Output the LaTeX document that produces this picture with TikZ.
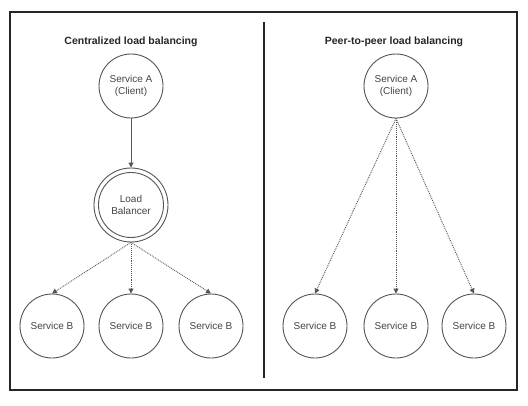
\documentclass[tikz,border=0pt]{standalone}
\usepackage{fontspec}
\setmainfont{Liberation Sans}
\usetikzlibrary{arrows.meta}
\definecolor{ln}{HTML}{555555}
\definecolor{tx}{HTML}{444444}
\begin{document}
\begin{tikzpicture}[x=1pt,y=-1pt,
  svc/.style={circle,draw=ln,line width=0.9pt,minimum size=64pt,inner sep=0pt,align=center,text=tx,font=\fontsize{10}{12}\selectfont},
  ttl/.style={font=\bfseries\fontsize{10.5}{12}\selectfont,text=black!85},
  solidarr/.style={draw=ln,line width=0.9pt,-{Triangle[length=5pt,width=5pt]}},
  dotarr/.style={draw=ln,line width=0.9pt,densely dotted,-{Triangle[length=5pt,width=5pt]}}]
\useasboundingbox (0,0) rectangle (528,405);
\fill[white] (0,0) rectangle (528,405);
\draw[line width=1.8pt,black!85] (10,12) rectangle (517,390);
\draw[line width=2.2pt,black!85] (264,22) -- (264,378);
% left
\node[ttl] (t1) at (131,42) {Centralized load balancing};
\node[svc] (a1) at (131,86) {Service A\\(Client)};
\node[circle,draw=ln,line width=0.9pt,minimum size=74pt,inner sep=0pt] (lbo) at (131,205) {};
\node[svc,minimum size=65pt] (lb) at (131,205) {Load\\Balancer};
\node[svc] (b1) at (52,326) {Service B};
\node[svc] (b2) at (131,326) {Service B};
\node[svc] (b3) at (211,326) {Service B};
\draw[solidarr] (a1.south) -- (lbo.north);
\draw[dotarr] (lbo.south) -- (b1.north);
\draw[dotarr] (lbo.south) -- (b2.north);
\draw[dotarr] (lbo.south) -- (b3.north);
% right
\node[ttl] (t2) at (394,42) {Peer-to-peer load balancing};
\node[svc] (a2) at (396,86) {Service A\\(Client)};
\node[svc] (c1) at (315,326) {Service B};
\node[svc] (c2) at (396,326) {Service B};
\node[svc] (c3) at (474,326) {Service B};
\draw[dotarr] (a2.south) -- (c1.north);
\draw[dotarr] (a2.south) -- (c2.north);
\draw[dotarr] (a2.south) -- (c3.north);
\end{tikzpicture}
\end{document}
